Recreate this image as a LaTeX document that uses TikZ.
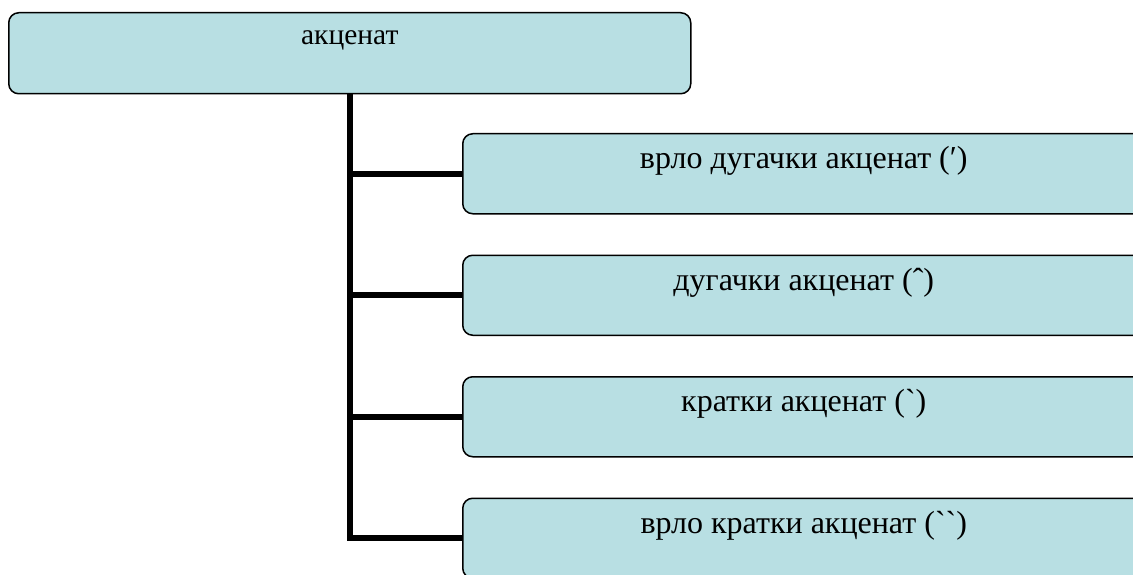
\documentclass[tikz,border=0pt]{standalone}
\usepackage{fontspec}
\setmainfont{Liberation Serif}[Ligatures=TeXOff]
\definecolor{boxfill}{RGB}{184,223,227}
\tikzset{
  x=1pt, y=-1pt,
  box/.style={draw=black, line width=1.5pt, rounded corners=10pt, fill=boxfill,
    minimum width=682pt, inner xsep=0pt, inner ysep=0pt, anchor=north west,
    font=\fontsize{32}{36}\selectfont, text height=35pt, text depth=45pt},
  trunk/.style={line width=6pt, line join=miter, draw=black}
}
\begin{document}
\begin{tikzpicture}
\useasboundingbox (0,0) rectangle (1133,575);
\node[box, font=\fontsize{29.5}{34}\selectfont, text height=32pt, text depth=49pt] (top) at (8,12) {акценат};
\node[box] (c1) at (462,133) {врло дугачки акценат (′)};
\node[box] (c2) at (462,254.5) {дугачки акценат (ˆ)};
\node[box] (c3) at (462,376) {кратки акценат (\symbol{96})};
\node[box] (c4) at (462,497.5) {врло кратки акценат (\symbol{96}\symbol{96})};
\draw[trunk] (top.south) |- (c4.west);
\draw[trunk] (top.south |- c1.west) -- (c1.west);
\draw[trunk] (top.south |- c2.west) -- (c2.west);
\draw[trunk] (top.south |- c3.west) -- (c3.west);
\end{tikzpicture}
\end{document}
